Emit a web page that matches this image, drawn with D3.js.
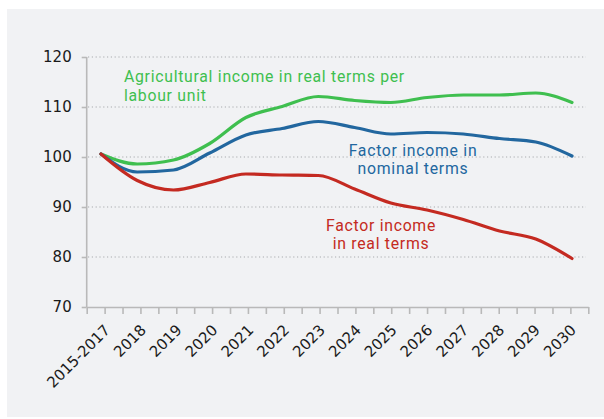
<!DOCTYPE html>
<html>
<head>
<meta charset="utf-8">
<script src="https://cdn.jsdelivr.net/npm/d3@7"></script>
<style>
  body { margin: 0; background: #fff; }
  svg { display: block; }
</style>
</head>
<body>
<div id="chart"></div>
<script>
// categories and values
var categories = ["2015-2017", "2018", "2019", "2020", "2021", "2022", "2023",
                  "2024", "2025", "2026", "2027", "2028", "2029", "2030"];
var agriRealPerUnit = [100.6, 98.6, 99.4, 102.7, 107.9, 110.1, 112.1, 111.3, 110.9, 111.9, 112.4, 112.4, 112.8, 110.9];
var factorNominal   = [100.6, 97.0, 97.4, 100.8, 104.4, 105.7, 107.1, 105.9, 104.6, 104.9, 104.6, 103.7, 103.0, 100.2];
var factorReal      = [100.6, 95.3, 93.4, 94.9, 96.6, 96.4, 96.3, 93.6, 90.8, 89.4, 87.5, 85.2, 83.6, 79.7];
var yTicks = [70, 80, 90, 100, 110, 120];

var width = 604;
var height = 419;

var svg = d3.select("#chart")
    .append("svg")
    .attr("width", width)
    .attr("height", height);

// grey panel
svg.append("rect")
    .attr("x", 7).attr("y", 9)
    .attr("width", width - 7).attr("height", 408)
    .attr("fill", "#f1f2f4");

var y = d3.scaleLinear().domain([70, 120]).range([307, 57]);

// axis ticks sit on half categories, the lines run a bit wider
var xTick = d3.scaleLinear().domain([-0.5, 13.5]).range([86.7, 588.3]);
var x = d3.scaleLinear().domain([0, categories.length - 1]).range([101, 572]);

// gridlines
svg.append("g")
    .selectAll("line")
    .data(yTicks.slice(1))
    .enter().append("line")
    .attr("x1", 88).attr("x2", 586)
    .attr("y1", function(d){ return y(d); })
    .attr("y2", function(d){ return y(d); })
    .attr("stroke", "#a9abae")
    .attr("stroke-width", 1)
    .attr("stroke-dasharray", "1.2,2.6");

// y axis
var yAxis = svg.append("g")
    .attr("transform", "translate(86.7,0)")
    .call(d3.axisLeft(y).tickValues(yTicks).tickSize(5).tickPadding(10));
yAxis.select(".domain").attr("stroke", "#b9b9b9").attr("stroke-width", 1.6)
    .attr("d", "M0," + y(70) + "V" + y(120));
yAxis.selectAll(".tick line").attr("stroke", "#b9b9b9").attr("stroke-width", 1.6);
yAxis.selectAll(".tick text")
    .attr("fill", "#1a1a1a")
    .style("font-family", "DejaVu Sans")
    .style("font-size", "15px");

// x axis: 29 ticks, a label on every other one
var halfSteps = d3.range(-0.5, 13.51, 0.5);
var xAxis = svg.append("g")
    .attr("transform", "translate(0," + y(70) + ")")
    .call(d3.axisBottom(xTick).tickValues(halfSteps).tickSize(7).tickSizeOuter(0)
        .tickFormat(function(d){ return Number.isInteger(d) ? categories[d] : ""; }));
xAxis.select(".domain").attr("stroke", "#b9b9b9").attr("stroke-width", 1.6);
xAxis.selectAll(".tick line").attr("stroke", "#b9b9b9").attr("stroke-width", 1.6);
xAxis.selectAll(".tick text")
    .attr("fill", "#1a1a1a")
    .style("font-family", "DejaVu Sans")
    .style("font-size", "15px")
    .attr("text-anchor", "end")
    .attr("dy", null)
    .attr("y", 0)
    .attr("transform", "translate(6,24) rotate(-45)");

var series = [
    { values: agriRealPerUnit, color: "#3fbf4f" },
    { values: factorNominal, color: "#22679f" },
    { values: factorReal, color: "#c42a21" }
];

var line = d3.line()
    .x(function(d, i){ return x(i); })
    .y(function(d){ return y(d); })
    .curve(d3.curveMonotoneX);

svg.append("g")
    .selectAll("path")
    .data(series)
    .enter().append("path")
    .attr("d", function(d){ return line(d.values); })
    .attr("fill", "none")
    .attr("stroke", function(d){ return d.color; })
    .attr("stroke-width", 3.2)
    .attr("stroke-linecap", "round");

// annotations, one text per line
var labels = [
    { lines: ["Agricultural income in real terms per", "labour unit"], x: 124, y: 82, anchor: "start", color: "#3fbf4f" },
    { lines: ["Factor income in", "nominal terms"], x: 413, y: 155.5, anchor: "middle", color: "#22679f" },
    { lines: ["Factor income", "in real terms"], x: 381, y: 230.5, anchor: "middle", color: "#c42a21" }
];

labels.forEach(function(l){
    l.lines.forEach(function(s, i){
        svg.append("text")
            .attr("x", l.x).attr("y", l.y + i * 18.6)
            .attr("text-anchor", l.anchor)
            .attr("fill", l.color)
            .style("font-family", "Roboto")
            .style("font-size", "15.8px")
            .style("letter-spacing", "0.72px")
            .text(s);
    });
});
</script>
</body>
</html>
